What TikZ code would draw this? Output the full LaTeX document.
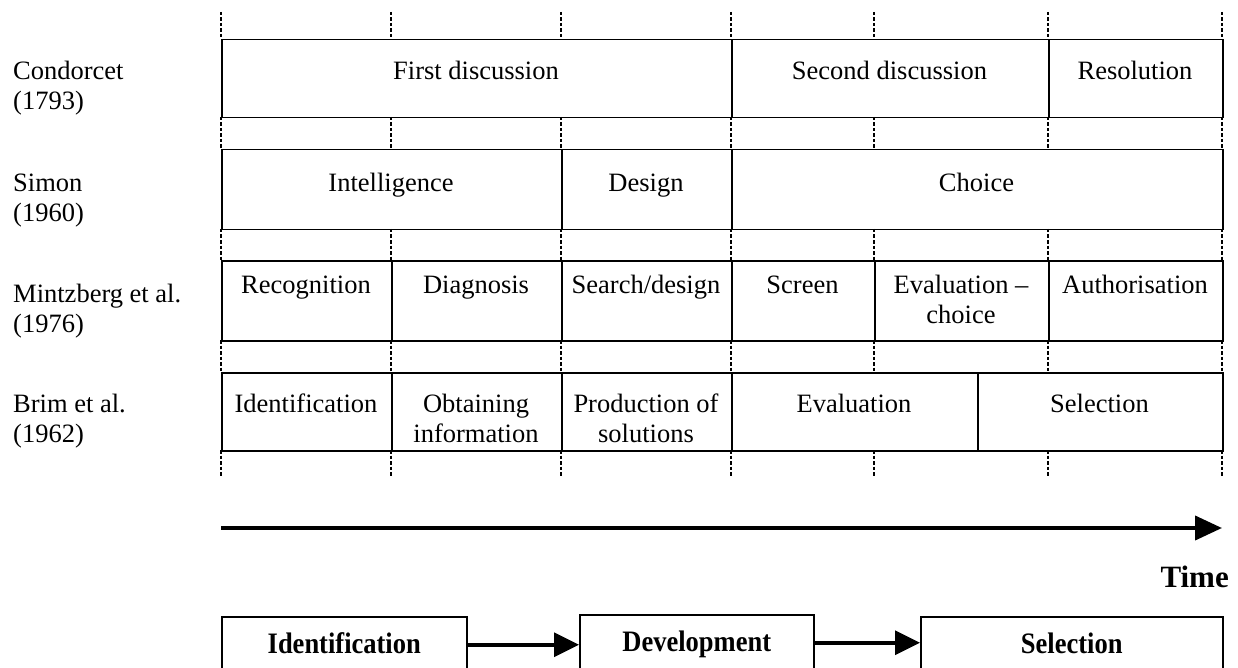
\documentclass[tikz,border=0pt]{standalone}
\usepackage{fontspec}
\setmainfont{Liberation Serif}
\usetikzlibrary{arrows.meta}
\newcommand\mkcell[5]{\node[cell, minimum width=#3-#2, minimum height=#5-#4] (#1) at (#2,#4) {};}
\begin{document}
\begin{tikzpicture}[x=1pt,y=-1pt,
  cell/.style={draw, line width=1.5pt, inner sep=0pt, anchor=north west},
  txt/.style={inner sep=0pt, anchor=base, font=\fontsize{26.5}{30}\selectfont},
  lbl/.style={inner sep=0pt, anchor=base west, font=\fontsize{26.5}{30}\selectfont},
  guide/.style={line width=2.8pt, dash pattern=on 3.5pt off 2pt, black},
  stagebox/.style={draw, line width=1.5pt, inner sep=0pt, anchor=north west,
    text height=37pt, text depth=19pt, font=\bfseries\fontsize{26.5}{30}\selectfont},
  flow/.style={line width=3.5pt, -{Triangle[length=25pt,width=24pt]}},
  timeline/.style={line width=4pt, -{Triangle[length=27pt,width=24pt]}}
]
\path[use as bounding box] (0,0) rectangle (1238,668);
\clip (0,0) rectangle (1238,668);

% dotted guides
\foreach \x in {221,391,561,731,874,1048,1222}{
  \foreach \a/\b in {12/39,117/149,229/260,340/372,450/477}{
    \draw[guide] (\x,\a) -- (\x,\b);
  }
}

% Condorcet row
\mkcell{c1}{221}{731}{39}{117}
\mkcell{c2}{731}{1048}{39}{117}
\mkcell{c3}{1048}{1222}{39}{117}
\node[txt] (tc1) at (476,80) {First discussion};
\node[txt] (tc2) at (889.5,80) {Second discussion};
\node[txt] (tc3) at (1135,80) {Resolution};

% Simon row
\mkcell{s1}{221}{561}{149}{229}
\mkcell{s2}{561}{731}{149}{229}
\mkcell{s3}{731}{1222}{149}{229}
\node[txt] (ts1) at (391,192) {Intelligence};
\node[txt] (ts2) at (646,192) {Design};
\node[txt] (ts3) at (976.5,192) {Choice};

% Mintzberg row
\mkcell{m1}{221}{391}{260}{340}
\mkcell{m2}{391}{561}{260}{340}
\mkcell{m3}{561}{731}{260}{340}
\mkcell{m4}{731}{874}{260}{340}
\mkcell{m5}{874}{1048}{260}{340}
\mkcell{m6}{1048}{1222}{260}{340}
\node[txt] (tm1) at (306,293) {Recognition};
\node[txt] (tm2) at (476,293) {Diagnosis};
\node[txt] (tm3) at (646,293) {Search/design};
\node[txt] (tm4) at (802.5,293) {Screen};
\node[txt] (tm5) at (961,293) {\begin{tabular}[t]{@{}c@{}}Evaluation –\\choice\end{tabular}};
\node[txt] (tm6) at (1135,293) {Authorisation};

% Brim row
\mkcell{b1}{221}{391}{372}{450}
\mkcell{b2}{391}{561}{372}{450}
\mkcell{b3}{561}{731}{372}{450}
\mkcell{b4}{731}{977}{372}{450}
\mkcell{b5}{977}{1222}{372}{450}
\node[txt] (tb1) at (306,412) {Identification};
\node[txt] (tb2) at (476,412) {\begin{tabular}[t]{@{}c@{}}Obtaining\\information\end{tabular}};
\node[txt] (tb3) at (646,412) {\begin{tabular}[t]{@{}c@{}}Production of\\solutions\end{tabular}};
\node[txt] (tb4) at (854,412) {Evaluation};
\node[txt] (tb5) at (1099.5,412) {Selection};

% left labels
\node[lbl] (l1) at (13,80) {\begin{tabular}[t]{@{}l@{}}Condorcet\\(1793)\end{tabular}};
\node[lbl] (l2) at (13,192) {\begin{tabular}[t]{@{}l@{}}Simon\\(1960)\end{tabular}};
\node[lbl] (l3) at (13,302) {\begin{tabular}[t]{@{}l@{}}Mintzberg et al.\\(1976)\end{tabular}};
\node[lbl] (l4) at (13,412) {\begin{tabular}[t]{@{}l@{}}Brim et al.\\(1962)\end{tabular}};

% time arrow
\coordinate (tstart) at (221,528);
\coordinate (tend) at (1222,528);
\draw[timeline] (tstart) -- (tend);
\node[inner sep=0pt, anchor=base east, font=\bfseries\fontsize{31}{34}\selectfont] (time) at (1229,587) {Time};

% bottom stages
\node[stagebox, minimum width=245pt] (idb) at (221,616) {\scalebox{1}[1.12]{Identification}};
\node[stagebox, minimum width=234pt] (devb) at (579,614) {\scalebox{1}[1.12]{Development}};
\node[stagebox, minimum width=302pt] (selb) at (920,616) {\scalebox{1}[1.12]{Selection}};
\draw[flow] (idb.east) -- (idb.east -| devb.west);
\draw[flow] (devb.east) -- (devb.east -| selb.west);
\end{tikzpicture}
\end{document}
